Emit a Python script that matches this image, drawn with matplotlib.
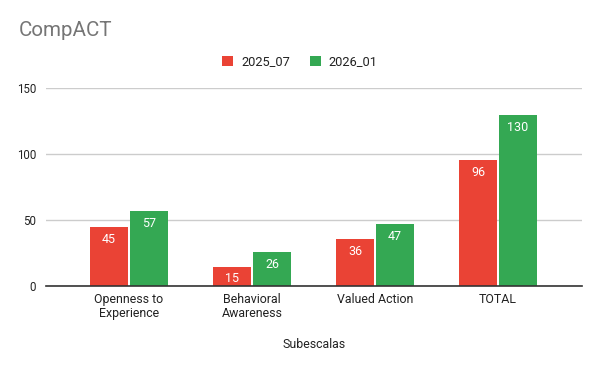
import matplotlib
matplotlib.use("Agg")
import matplotlib.pyplot as plt
import numpy as np

categories = ["Openness to\nExperience", "Behavioral\nAwareness", "Valued Action", "TOTAL"]
series_names = ["2025_07", "2026_01"]
values_2025_07 = [45, 15, 36, 96]
values_2026_01 = [57, 26, 47, 130]
yticks = [0, 50, 100, 150]

plt.rcParams['font.family'] = ['Roboto', 'DejaVu Sans']

colors = ["#EA4335", "#34A853"]
W, H = 600, 371
fig = plt.figure(figsize=(6, 3.71), dpi=100)
ax = fig.add_axes([46 / W, 1 - 286.3 / H, (582 - 46) / W, (286.3 - 88.3) / H])

x = np.arange(len(categories))
bw = 0.303
off = 0.163
bars = []
for i, (vals, c) in enumerate(zip([values_2025_07, values_2026_01], colors)):
    b = ax.bar(x + (-off if i == 0 else off), vals, width=bw, color=c, zorder=3, label=series_names[i])
    bars.append(b)
    for rect, v in zip(b, vals):
        ax.annotate(str(v), (rect.get_x() + rect.get_width() / 2, v), xytext=(0, -9), textcoords="offset points",
                    ha="center", va="center", color="white", fontsize=9)

ax.set_xlim(-0.675, 3.683)
ax.set_ylim(0, 150)
ax.set_yticks(yticks)
ax.set_yticklabels([str(t) for t in yticks])
ax.set_xticks(x)
ax.set_xticklabels(categories, fontsize=8.9, color="#222222", linespacing=1.1)
ax.tick_params(axis="y", length=0, pad=7, labelsize=8.3, labelcolor="#222222")
ax.tick_params(axis="x", length=0, pad=5)
ax.grid(axis="y", color="#cccccc", linewidth=1, zorder=0)
for s in ["top", "right", "left"]:
    ax.spines[s].set_visible(False)
ax.spines["bottom"].set_color("#333333")
ax.spines["bottom"].set_linewidth(1.2)
ax.spines["bottom"].set_zorder(4)

fig.text(314 / W, 1 - 344 / H, "Subescalas", ha="center", va="center", fontsize=8.9, color="#222222")
fig.text(19 / W, 1 - 31 / H, "CompACT", ha="left", va="center", fontsize=14.8, color="#757575")

fig.legend(handles=bars, labels=series_names, loc="center", bbox_to_anchor=(300 / W, 1 - 62 / H),
           ncol=2, frameon=False, fontsize=9.2, handlelength=0.85, handleheight=0.85,
           handletextpad=0.6, columnspacing=1.6, labelcolor="#222222")

fig.savefig("out.png", dpi=100, facecolor="white")
